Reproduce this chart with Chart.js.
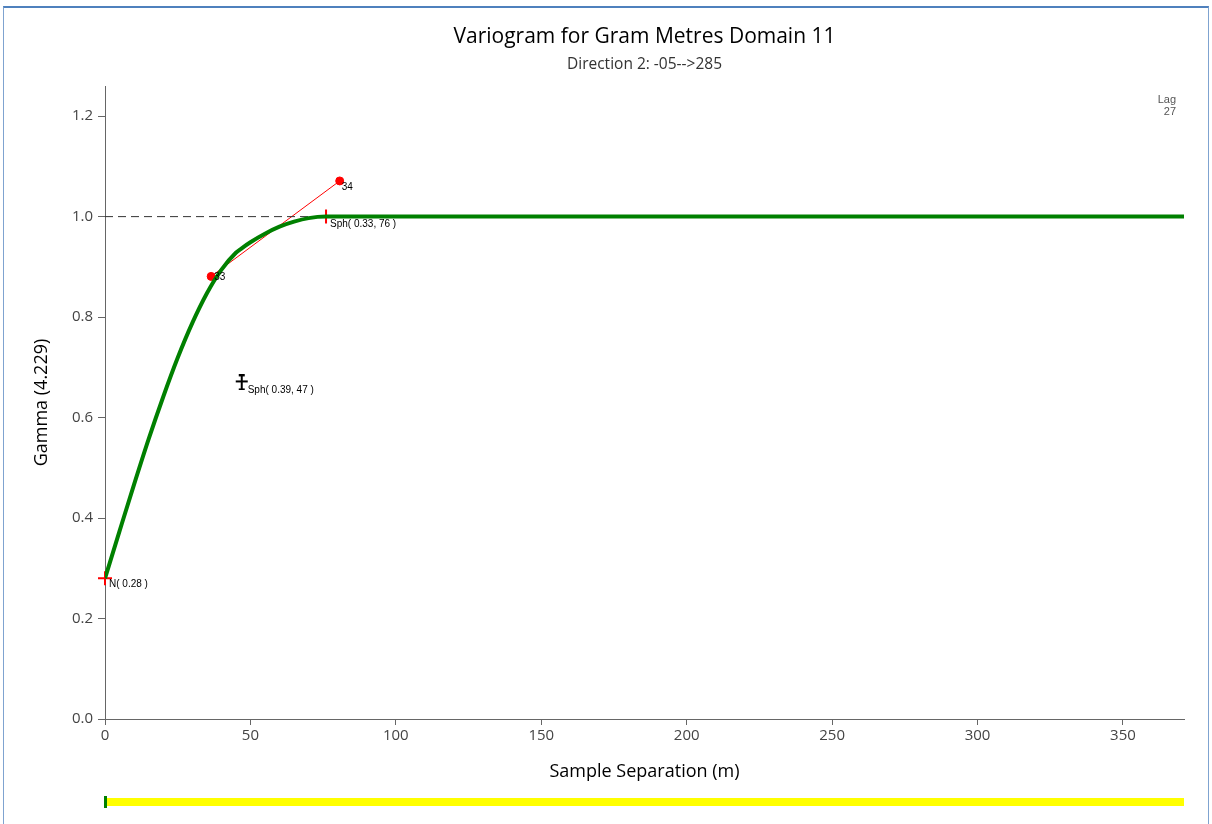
<!DOCTYPE html>
<html>
<head>
<meta charset="utf-8">
<title>Variogram for Gram Metres Domain 11</title>
<script src="https://cdn.jsdelivr.net/npm/chart.js@4.4.1/dist/chart.umd.min.js"></script>
<style>
html, body { margin: 0; padding: 0; background: #fff; }
#wrap { position: relative; width: 1212px; height: 824px; overflow: hidden; }
#frame {
    position: absolute; left: 3px; top: 6px; width: 1204px; height: 840px;
    border-top: 2px solid #4f81bd; border-left: 1px solid #7fa3d0; border-right: 1px solid #7fa3d0;
    pointer-events: none;
}
</style>
</head>
<body>
<div id="wrap">
    <canvas id="variogram" width="1212" height="824"></canvas>
    <div id="frame"></div>
</div>
<script>
// model curve
const modelSep = [0, 5, 10, 15, 20, 25, 30, 35, 40, 45, 47, 50, 55, 60, 65, 70, 76, 371];
const modelGamma = [0.28, 0.374, 0.467, 0.557, 0.641, 0.719, 0.788, 0.847, 0.894, 0.928, 0.937, 0.949, 0.966, 0.980, 0.990, 0.997, 1.0, 1.0];

// experimental variogram points and pair counts
const expSep = [36.5, 80.7];
const expGamma = [0.881, 1.071];
const expPairs = ['33', '34'];

// model structures
const structSep = [0, 76];
const structGamma = [0.28, 1.0];
const structLabels = ['N( 0.28 )', 'Sph( 0.33, 76 )'];
const nestedSep = [47];
const nestedGamma = [0.67];
const nestedLabels = ['Sph( 0.39, 47 )'];

const sillSep = [0, 76];
const sill = 1.0;

const xTicks = [0, 50, 100, 150, 200, 250, 300, 350];
const yTicks = [0.0, 0.2, 0.4, 0.6, 0.8, 1.0, 1.2];
const lagCount = '27';

const toPoints = (xs, ys) => xs.map((x, i) => ({ x: x, y: ys[i] }));

// I-beam marker for the nested structure
const beam = document.createElement('canvas');
beam.width = 14;
beam.height = 16;
const bctx = beam.getContext('2d');
bctx.strokeStyle = '#000';
bctx.lineWidth = 2;
bctx.beginPath();
bctx.moveTo(7, 1); bctx.lineTo(7, 15);
bctx.moveTo(4, 1); bctx.lineTo(10, 1);
bctx.moveTo(4, 15); bctx.lineTo(10, 15);
bctx.moveTo(1, 7); bctx.lineTo(13, 7);
bctx.stroke();

const notes = {
    id: 'notes',
    afterDatasetsDraw(chart) {
        const ctx = chart.ctx;
        ctx.save();
        ctx.fillStyle = '#000';
        ctx.font = '10px "Liberation Sans", Arial, sans-serif';
        ctx.textBaseline = 'middle';
        ctx.textAlign = 'left';
        const put = (dsIndex, labels, offsets) => {
            chart.getDatasetMeta(dsIndex).data.forEach((el, i) => {
                ctx.fillText(labels[i], el.x + offsets[i][0], el.y + offsets[i][1]);
            });
        };
        put(2, expPairs, [[3, 1], [2, 6]]);
        put(3, structLabels, [[4, 6], [4, 8]]);
        put(4, nestedLabels, [[6, 8]]);
        ctx.restore();
    },
    afterDraw(chart) {
        const ctx = chart.ctx;
        const x = chart.scales.x;
        const area = chart.chartArea;
        ctx.save();
        // lag count in the corner
        ctx.fillStyle = '#555';
        ctx.font = '11px "Liberation Sans", Arial, sans-serif';
        ctx.textAlign = 'right';
        ctx.textBaseline = 'middle';
        ctx.fillText('Lag', area.right - 8, 100);
        ctx.fillText(lagCount, area.right - 8, 112);
        // lag range bar under the axis
        const x0 = x.getPixelForValue(0);
        ctx.fillStyle = '#ffff00';
        ctx.fillRect(x0, 798, area.right - x0, 8);
        ctx.fillStyle = '#008000';
        ctx.fillRect(x0 - 1, 796, 3, 12);
        ctx.restore();
    }
};

Chart.defaults.font.family = "'Open Sans', 'Noto Sans', sans-serif";

new Chart(document.getElementById('variogram'), {
    type: 'scatter',
    data: {
        datasets: [
            {
                label: 'Model',
                data: toPoints(modelSep, modelGamma),
                showLine: true,
                borderColor: '#008000',
                borderWidth: 4,
                pointRadius: 0,
                cubicInterpolationMode: 'monotone',
            },
            {
                label: 'Sill',
                data: toPoints(sillSep, sillSep.map(() => sill)),
                showLine: true,
                borderColor: '#333',
                borderWidth: 1,
                borderDash: [8, 5],
                pointRadius: 0,
            },
            {
                label: 'Experimental',
                data: toPoints(expSep, expGamma),
                showLine: true,
                borderColor: '#ff0000',
                borderWidth: 1,
                backgroundColor: '#ff0000',
                pointBackgroundColor: '#ff0000',
                pointBorderColor: '#ff0000',
                pointRadius: 4,
            },
            {
                label: 'Structures',
                data: toPoints(structSep, structGamma),
                showLine: false,
                clip: false,
                pointStyle: 'cross',
                pointRadius: 7,
                pointBorderWidth: 2,
                pointBorderColor: '#ff0000',
            },
            {
                label: 'Nested',
                data: toPoints(nestedSep, nestedGamma),
                showLine: false,
                pointStyle: beam,
            },
        ],
    },
    options: {
        responsive: false,
        animation: false,
        layout: {
            padding: { left: 0, right: 28, top: 0, bottom: 0 },
        },
        plugins: {
            legend: { display: false },
            tooltip: { enabled: false },
            title: {
                display: true,
                fullSize: false,
                text: 'Variogram for Gram Metres Domain 11',
                color: '#000',
                font: { size: 21, weight: 'normal' },
                padding: { top: 24.4, bottom: 4 },
            },
            subtitle: {
                display: true,
                fullSize: false,
                text: 'Direction 2: -05-->285',
                color: '#333',
                font: { size: 15.5 },
                padding: { top: 2.1, bottom: 11.7 },
            },
        },
        scales: {
            x: {
                type: 'linear',
                min: 0,
                max: 371,
                afterFit: (scale) => { scale.height = 105; },
                afterBuildTicks: (scale) => { scale.ticks = xTicks.map(v => ({ value: v })); },
                grid: { display: true, drawOnChartArea: false, drawTicks: true, tickLength: 6, color: '#666' },
                border: { display: true, color: '#666', width: 1 },
                ticks: { color: '#444', font: { size: 15 }, padding: 2, maxRotation: 0 },
                title: {
                    display: true,
                    text: 'Sample Separation (m)',
                    color: '#000',
                    font: { size: 18 },
                    padding: { top: 0, bottom: 41 },
                },
            },
            y: {
                type: 'linear',
                min: 0,
                max: 1.26,
                afterFit: (scale) => { scale.width = 105; },
                afterBuildTicks: (scale) => { scale.ticks = yTicks.map(v => ({ value: v })); },
                grid: { display: true, drawOnChartArea: false, drawTicks: true, tickLength: 7, color: '#666' },
                border: { display: true, color: '#666', width: 1 },
                ticks: {
                    color: '#444',
                    font: { size: 15 },
                    padding: 5,
                    callback: (v) => v.toFixed(1),
                },
                title: {
                    display: true,
                    text: 'Gamma (4.229)',
                    color: '#000',
                    font: { size: 18 },
                    padding: { top: 31, bottom: 0 },
                },
            },
        },
    },
    plugins: [notes],
});
</script>
</body>
</html>
